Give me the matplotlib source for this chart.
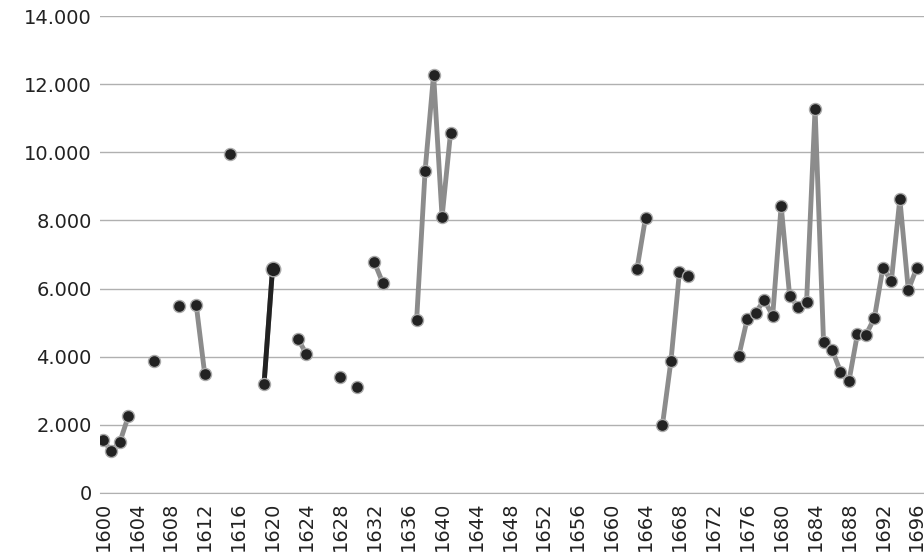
import matplotlib
matplotlib.use("Agg")
import matplotlib.pyplot as plt
import numpy as np

years = list(range(1600, 1697))
data = {
1600:1550,1601:1230,1602:1500,1603:2260,1606:3880,1609:5490,1611:5520,1612:3500,
1615:9950,1619:3200,1620:6580,1623:4520,1624:4080,1628:3400,1630:3110,1632:6780,1633:6170,
1637:5080,1638:9460,1639:12280,1640:8100,1641:10570,1663:6580,1664:8080,1666:2000,1667:3880,
1668:6490,1669:6370,1675:4020,1676:5110,1677:5290,1678:5670,1679:5200,1680:8430,1681:5790,
1682:5460,1683:5610,1684:11280,1685:4430,1686:4210,1687:3560,1688:3290,1689:4670,1690:4640,
1691:5140,1692:6610,1693:6230,1694:8630,1695:5960,1696:6610}
highlight = [1619, 1620]

vals = np.array([data.get(y, np.nan) for y in years], dtype=float)
x = np.arange(len(years))

fig = plt.figure(figsize=(9.24, 5.58), dpi=100)
ax = fig.add_axes([100/924, 65/558, 824/924, 477/558])
ax.plot(x, vals, color="#8c8c8c", lw=3.5, zorder=2)
hi = [years.index(y) for y in highlight]
ax.plot(hi, vals[hi], color="#222222", lw=3.5, zorder=3)
mask = ~np.isnan(vals)
ax.scatter(x[mask], vals[mask], s=75, facecolor="#222222", edgecolor="#aaaaaa", lw=1, zorder=4)
ax.scatter([hi[1]], [vals[hi[1]]], s=110, facecolor="#222222", edgecolor="#aaaaaa", lw=1, zorder=5)

ax.set_ylim(0, 14000)
ax.set_yticks(range(0, 14001, 2000))
ax.set_yticklabels([f"{v:,}".replace(",", ".") for v in range(0, 14001, 2000)], fontsize=14, color="#222222")
ax.set_xlim(-0.35, 96.85)
ax.set_xticks(x[::4])
ax.set_xticklabels([str(y) for y in years[::4]], rotation=90, fontsize=14, color="#222222")
ax.grid(axis="y", color="#b0b0b0", lw=1)
ax.set_axisbelow(True)
for s in ["top", "right", "left"]:
    ax.spines[s].set_visible(False)
ax.spines["bottom"].set_color("#b0b0b0")
ax.tick_params(length=0, pad=6)
fig.savefig("out.png", dpi=100)
